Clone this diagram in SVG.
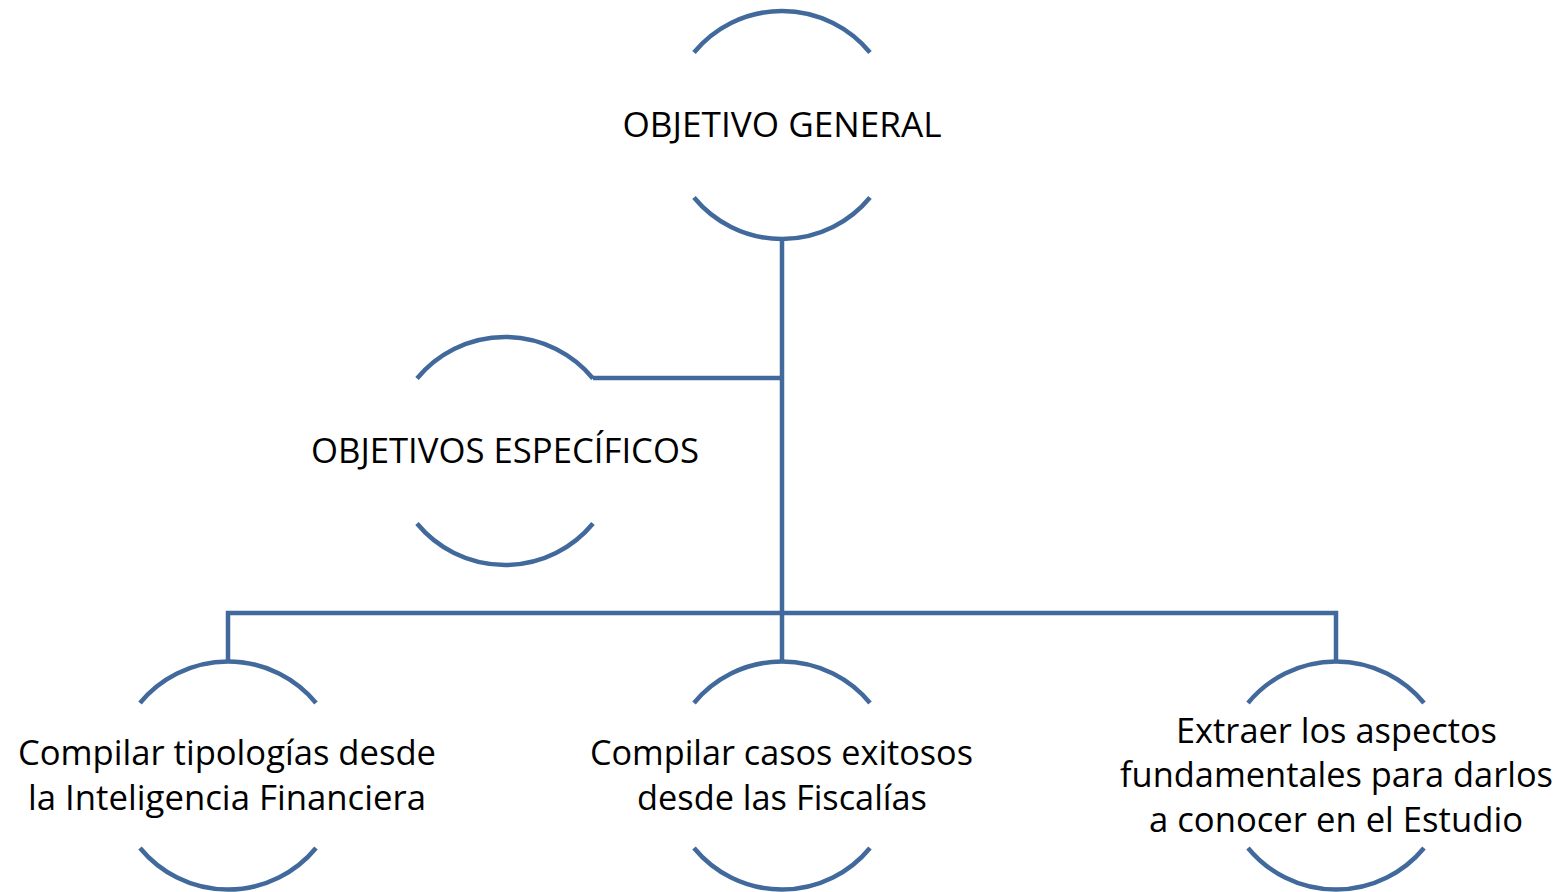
<svg xmlns="http://www.w3.org/2000/svg" width="1563" height="892" viewBox="0 0 1563 892">
<style>
.arc{fill:none;stroke:#41699b;stroke-width:4.5}
.con{fill:none;stroke:#41699b;stroke-width:4.5}
text{font-family:"Open Sans","Liberation Sans",sans-serif;font-size:34.5px;fill:#000;text-anchor:middle}
</style>
<rect width="1563" height="892" fill="#fff"/>
<g id="connectors">
<path class="con" d="M782 240V661"/>
<path class="con" d="M593 378H782"/>
<path class="con" d="M228 661V613H1336V661"/>
</g>
<g id="objetivo-general">
<path class="arc" d="M694 52.5A114 114 0 0 1 870 52.5"/>
<path class="arc" d="M694 197.5A114 114 0 0 0 870 197.5"/>
<text x="782" y="137" textLength="319" lengthAdjust="spacingAndGlyphs">OBJETIVO GENERAL</text>
</g>
<g id="objetivos-especificos">
<path class="arc" d="M417 378.5A114 114 0 0 1 593 378.5"/>
<path class="arc" d="M417 523.5A114 114 0 0 0 593 523.5"/>
<text x="505" y="463" textLength="388" lengthAdjust="spacingAndGlyphs">OBJETIVOS ESPECÍFICOS</text>
</g>
<g id="tipologias">
<path class="arc" d="M140 703A114 114 0 0 1 316 703"/>
<path class="arc" d="M140 848A114 114 0 0 0 316 848"/>
<text x="227" y="765" textLength="418" lengthAdjust="spacingAndGlyphs">Compilar tipologías desde</text>
<text x="227" y="810" textLength="398" lengthAdjust="spacingAndGlyphs">la Inteligencia Financiera</text>
</g>
<g id="casos">
<path class="arc" d="M694 703A114 114 0 0 1 870 703"/>
<path class="arc" d="M694 848A114 114 0 0 0 870 848"/>
<text x="781.5" y="765" textLength="383" lengthAdjust="spacingAndGlyphs">Compilar casos exitosos</text>
<text x="782" y="810" textLength="290" lengthAdjust="spacingAndGlyphs">desde las Fiscalías</text>
</g>
<g id="aspectos">
<path class="arc" d="M1248 703A114 114 0 0 1 1424 703"/>
<path class="arc" d="M1248 848A114 114 0 0 0 1424 848"/>
<text x="1336.5" y="743" textLength="321" lengthAdjust="spacingAndGlyphs">Extraer los aspectos</text>
<text x="1336.5" y="787" textLength="433" lengthAdjust="spacingAndGlyphs">fundamentales para darlos</text>
<text x="1336" y="832" textLength="374" lengthAdjust="spacingAndGlyphs">a conocer en el Estudio</text>
</g>
</svg>
